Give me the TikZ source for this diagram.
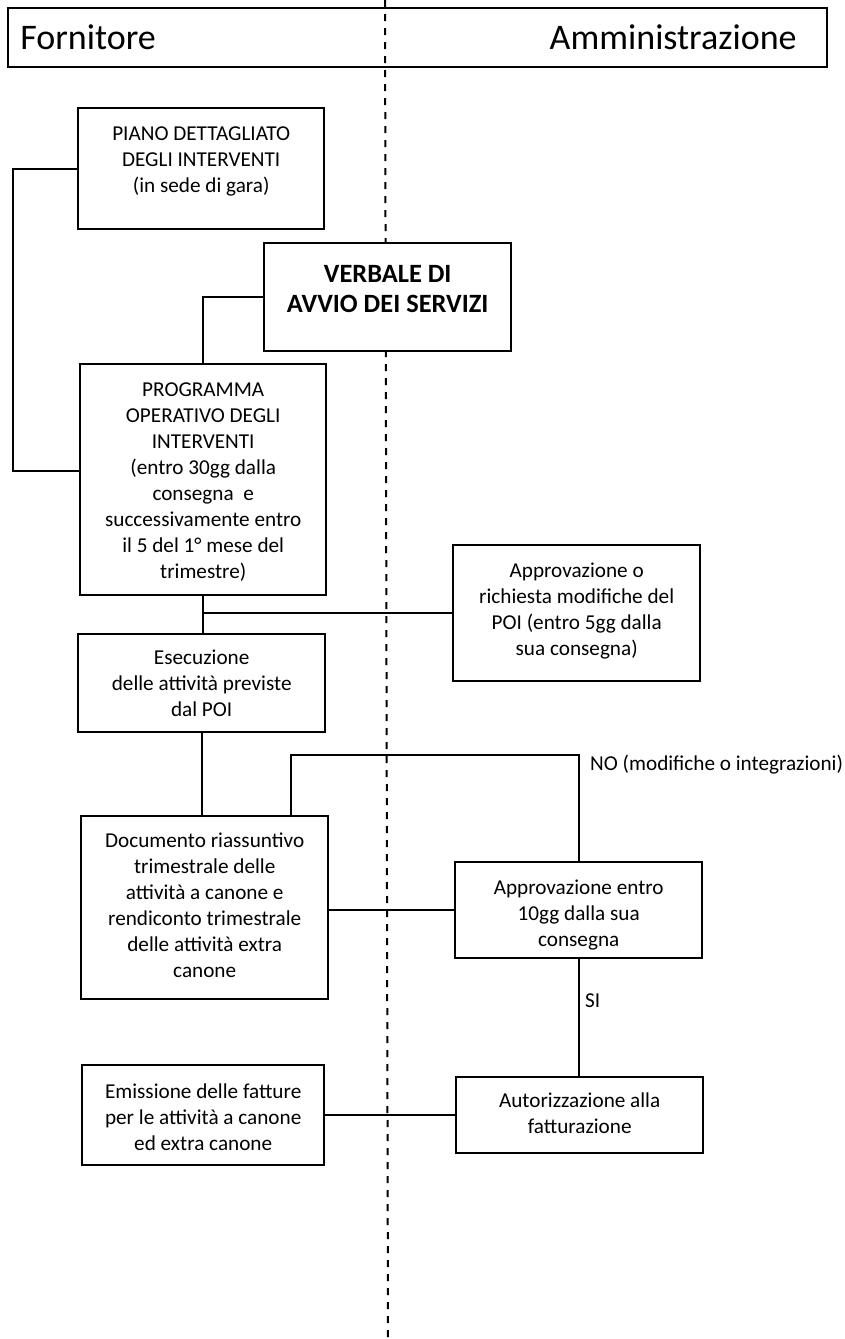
\documentclass[tikz,border=0pt]{standalone}
\usepackage{fontspec}
\setmainfont{Carlito}
\newlength\px
\setlength\px{0.5pt}
% box text: [strut] {width} {height} {lines}, top aligned
\newcommand{\boxtext}[4][32]{\parbox[c][#3\px][t]{#2\px}{\centering\rule{0pt}{#1\px}#4\par}}
\begin{document}
\begin{tikzpicture}[x=0.5pt, y=-0.5pt,
  proc/.style={draw, fill=white, line width=1.2pt, inner sep=0pt, anchor=north west,
    font=\fontsize{10.6}{13}\selectfont},
  link/.style={line width=1pt},
  lane/.style={dash pattern=on 3.5pt off 3.5pt, line width=1pt},
  lbl/.style={inner sep=0pt, font=\fontsize{10.6}{13}\selectfont},
  head/.style={inner sep=0pt, font=\fontsize{18}{22}\selectfont}]
\useasboundingbox (0,0) rectangle (845,1339);
%
\draw [lane] (385,0) -- (388,1339);
\draw [line width=1.1pt] (8,8) rectangle (827,67);
\node at (20,49) [head, anchor=base west] (forn) {Fornitore};
\node at (797,49) [head, anchor=base east] (amm) {Amministrazione};
%
\node at (77,107) [proc] (piano)
  {\boxtext{246}{121}{PIANO DETTAGLIATO\\DEGLI INTERVENTI\\(in sede di gara)}};
\node at (263,242) [proc, font=\fontsize{13.2}{15}\selectfont\bfseries] (verbale)
  {\boxtext[39]{247}{108}{VERBALE DI\\AVVIO DEI SERVIZI}};
\node at (79,363) [proc] (programma)
  {\boxtext{246}{231}{PROGRAMMA\\OPERATIVO DEGLI\\INTERVENTI\\(entro 30gg dalla\\consegna~ e\\successivamente entro\\il 5 del 1° mese del\\trimestre)}};
\node at (452,544) [proc] (approvpoi)
  {\boxtext{247}{136}{Approvazione o\\richiesta modifiche del\\POI (entro 5gg dalla\\sua consegna)}};
\node at (77,633) [proc] (esecuzione)
  {\boxtext[30]{247}{98}{Esecuzione\\delle attività previste\\dal POI}};
\node at (80,815) [proc] (documento)
  {\boxtext[31]{247}{183}{Documento riassuntivo\\trimestrale delle\\attività a canone e\\rendiconto trimestrale\\delle attività extra\\canone}};
\node at (454,861) [proc] (approvdoc)
  {\boxtext{247}{96}{Approvazione entro\\10gg dalla sua\\consegna}};
\node at (81,1064) [proc] (emissione)
  {\boxtext[33]{242}{100}{Emissione delle fatture\\per le attività a canone\\ed extra canone}};
\node at (455,1076) [proc] (autorizz)
  {\boxtext[30]{247}{76}{Autorizzazione alla\\fatturazione}};
%
\draw [link] (piano.west) -- ++(-64,0) |- ([yshift=4.25pt]programma.west);
\draw [link] (verbale.west) -| (programma.north);
\draw [link] (programma.south) -- (programma.south |- esecuzione.north);
\draw [link] (approvpoi.west) -- (approvpoi.west -| programma.south);
\draw [link] (esecuzione.south) -- (esecuzione.south |- documento.north);
\draw [link] (approvdoc.west) -- (approvdoc.west -| documento.east);
\draw [link] (approvdoc.north) -- ++(0,-106)
  node[lbl, anchor=base west, xshift=5.25pt, yshift=-7.5pt] (nolbl) {NO (modifiche o integrazioni)}
  -| ([xshift=-19pt]documento.north east);
\draw [link] (approvdoc.south) -- node[lbl, pos=0.35, anchor=west, xshift=2.75pt] (silbl) {SI}
  (approvdoc.south |- autorizz.north);
\draw [link] (emissione.east) -- (emissione.east -| autorizz.west);
\end{tikzpicture}
\end{document}
